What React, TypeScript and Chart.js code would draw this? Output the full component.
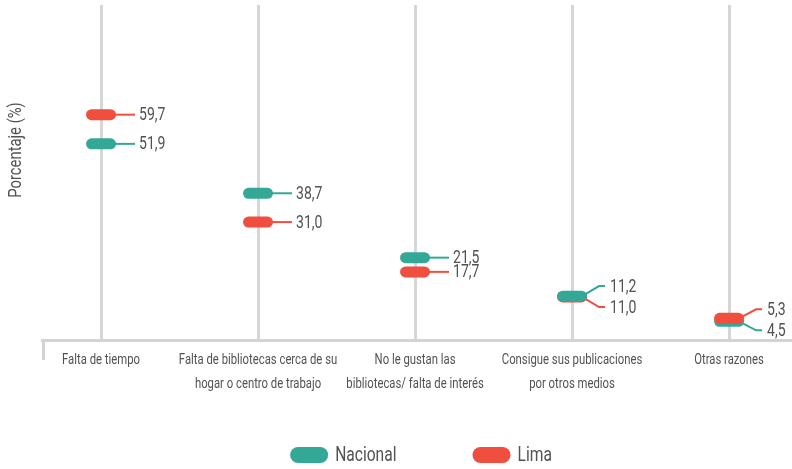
import React, { useEffect, useRef } from "react";
import { Chart, registerables } from "chart.js";

Chart.register(...registerables);

const categories: (string | string[])[] = [
  "Falta de tiempo",
  ["Falta de bibliotecas cerca de su", "hogar o centro de trabajo"],
  ["No le gustan las", "bibliotecas/ falta de interés"],
  ["Consigue sus publicaciones", "por otros medios"],
  "Otras razones",
];
const nacional = [51.9, 38.7, 21.5, 11.2, 4.5];
const lima = [59.7, 31.0, 17.7, 11.0, 5.3];
const seriesNames = ["Nacional", "Lima"];
const seriesValues = [nacional, lima];
const seriesColors = ["#34a896", "#f04e3e"];
const yTitle = "Porcentaje (%)";

const FONT = "Roboto, sans-serif";
const CONDENSE = 0.78;
const TEXT_COLOR = "#525252";

const fmt = (v: number) => v.toFixed(1).replace(".", ",");

function pill(ctx: CanvasRenderingContext2D, cx: number, cy: number, w: number, h: number, color: string) {
  const r = h / 2;
  ctx.beginPath();
  ctx.moveTo(cx - w / 2 + r, cy - r);
  ctx.lineTo(cx + w / 2 - r, cy - r);
  ctx.arc(cx + w / 2 - r, cy, r, -Math.PI / 2, Math.PI / 2);
  ctx.lineTo(cx - w / 2 + r, cy + r);
  ctx.arc(cx - w / 2 + r, cy, r, Math.PI / 2, (3 * Math.PI) / 2);
  ctx.closePath();
  ctx.fillStyle = color;
  ctx.fill();
}

function condText(
  ctx: CanvasRenderingContext2D,
  text: string,
  x: number,
  y: number,
  size: number,
  align: CanvasTextAlign,
  rotate = 0
) {
  ctx.save();
  ctx.font = `${size}px ${FONT}`;
  ctx.fillStyle = TEXT_COLOR;
  ctx.textAlign = align;
  ctx.textBaseline = "middle";
  ctx.translate(x, y);
  if (rotate) ctx.rotate(rotate);
  ctx.scale(CONDENSE, 1);
  ctx.fillText(text, 0, 0);
  ctx.restore();
}

function condWidth(ctx: CanvasRenderingContext2D, text: string, size: number) {
  ctx.save();
  ctx.font = `${size}px ${FONT}`;
  const w = ctx.measureText(text).width * CONDENSE;
  ctx.restore();
  return w;
}

const pillPlugin = {
  id: "pills",
  afterDatasetsDraw(chart: any) {
    const ctx: CanvasRenderingContext2D = chart.ctx;
    const metas = chart.data.datasets.map((_: any, i: number) => chart.getDatasetMeta(i));
    ctx.save();
    for (let j = 0; j < categories.length; j++) {
      const items = metas.map((m: any, i: number) => ({
        x: m.data[j].x,
        y: m.data[j].y,
        v: seriesValues[i][j],
        color: seriesColors[i],
        ly: m.data[j].y,
      }));
      const byY = [...items].sort((a, b) => a.y - b.y);
      const close = Math.abs(byY[0].y - byY[1].y) < 10;
      if (close) {
        const mid = (byY[0].y + byY[1].y) / 2;
        byY[0].ly = mid - 10.5;
        byY[1].ly = mid + 10.5;
      }
      ctx.lineWidth = 2;
      for (const it of items) {
        ctx.strokeStyle = it.color;
        ctx.beginPath();
        ctx.moveTo(it.x + 10, it.y);
        if (close) {
          ctx.lineTo(it.x + 27, it.ly);
          ctx.lineTo(it.x + 33, it.ly);
        } else {
          ctx.lineTo(it.x + 34, it.y);
        }
        ctx.stroke();
      }
      const byV = [...items].sort((a, b) => a.v - b.v);
      for (const it of byV) pill(ctx, it.x, it.y, 30, 11, it.color);
      for (const it of items) condText(ctx, fmt(it.v), it.x + 38, it.ly + 1, 18, "left");
    }
    ctx.restore();
  },
  afterDraw(chart: any) {
    const ctx: CanvasRenderingContext2D = chart.ctx;
    const area = chart.chartArea;
    const xs = chart.scales.x;
    ctx.save();
    ctx.strokeStyle = "#d3d3d3";
    ctx.lineWidth = 3;
    ctx.beginPath();
    ctx.moveTo(area.left + 1.5, area.bottom);
    ctx.lineTo(area.left + 1.5, area.bottom + 20);
    ctx.stroke();
    ctx.restore();

    categories.forEach((c, i) => {
      const px = xs.getPixelForValue(i);
      const lines = Array.isArray(c) ? c : [c];
      lines.forEach((t, k) => condText(ctx, t, px, area.bottom + 20 + k * 24, 14.5, "center"));
    });

    condText(ctx, yTitle, 16, 150, 19, "center", -Math.PI / 2);

    const gap = 76;
    const widths = seriesNames.map((n) => 38 + 7 + condWidth(ctx, n, 20));
    const total = widths.reduce((a, b) => a + b, 0) + gap * (seriesNames.length - 1);
    let x = 421 - total / 2;
    const ly = 455;
    seriesNames.forEach((n, i) => {
      pill(ctx, x + 19, ly, 38, 16, seriesColors[i]);
      condText(ctx, n, x + 45, ly + 1, 20, "left");
      x += widths[i] + gap;
    });
  },
};

export default function App() {
  const ref = useRef<HTMLCanvasElement | null>(null);
  useEffect(() => {
    if (!ref.current) return;
    const chart = new Chart(ref.current, {
      type: "scatter",
      data: {
        datasets: seriesNames.map((name, i) => ({
          label: name,
          data: seriesValues[i].map((v, j) => ({ x: j, y: v })),
          backgroundColor: seriesColors[i],
          borderColor: seriesColors[i],
          pointRadius: 0,
          pointHoverRadius: 0,
          showLine: false,
        })),
      },
      options: {
        animation: false,
        responsive: false,
        maintainAspectRatio: false,
        layout: { padding: { left: 42, right: 0, top: 5, bottom: 0 } },
        plugins: { legend: { display: false }, tooltip: { enabled: false } },
        scales: {
          x: {
            type: "linear",
            min: -0.376,
            max: 4.401,
            afterBuildTicks: (scale: any) => {
              scale.ticks = categories.map((_, i) => ({ value: i }));
            },
            afterFit: (scale: any) => {
              scale.height = 129;
            },
            grid: { color: "#d6d6d6", lineWidth: 3, drawTicks: false },
            border: { display: true, color: "#d3d3d3", width: 3 },
            ticks: { display: false },
          },
          y: { display: false, min: -0.5, max: 89 },
        },
      },
      plugins: [pillPlugin],
    } as any);
    return () => chart.destroy();
  }, []);
  return (
    <div style={{ position: "fixed", left: 0, top: 0, width: 792, height: 469, background: "#fff" }}>
      <canvas ref={ref} width={792} height={469} style={{ width: 792, height: 469 }} />
    </div>
  );
}
